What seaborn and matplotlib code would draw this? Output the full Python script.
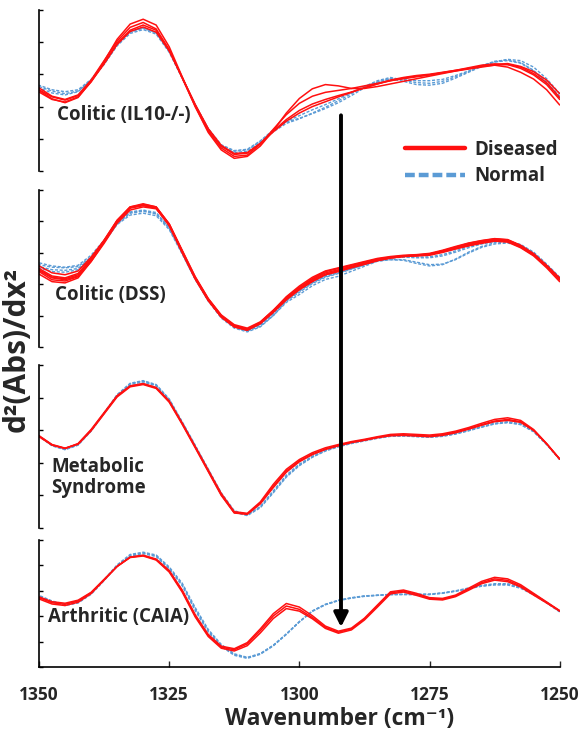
import pandas as pd
import numpy as np
import matplotlib
matplotlib.use('Agg')
import matplotlib.pyplot as plt
from matplotlib.lines import Line2D
from matplotlib.patches import ConnectionPatch
import seaborn as sns

# DATA #
# second derivative spectra, every 2.5 cm-1 (arbitrary units, 0-500 per panel)
wavenumber = [1350 - 2.5 * i for i in range(41)]

il10_diseased = [
    [250, 224, 212, 228, 278, 340, 408, 455, 470, 452, 385, 292, 200, 120, 66, 40, 46, 78, 126, 180, 225, 255, 268, 264, 256, 256, 262, 270, 278, 286, 294, 302, 310, 318, 325, 328, 322, 306, 285, 252, 205],
    [258, 232, 222, 236, 282, 342, 402, 445, 460, 440, 376, 288, 200, 124, 72, 46, 50, 84, 130, 175, 210, 232, 244, 250, 256, 264, 272, 280, 286, 292, 298, 305, 312, 320, 328, 332, 330, 318, 298, 268, 222],
    [245, 222, 214, 230, 276, 334, 396, 436, 452, 436, 374, 290, 206, 130, 78, 52, 56, 86, 125, 160, 188, 208, 222, 234, 245, 258, 270, 282, 290, 296, 300, 306, 312, 318, 325, 330, 333, 324, 308, 282, 240],
    [252, 230, 220, 234, 278, 332, 392, 432, 446, 430, 372, 290, 206, 132, 80, 55, 58, 86, 122, 155, 180, 200, 215, 230, 244, 258, 270, 280, 288, 294, 298, 304, 310, 316, 322, 328, 330, 322, 302, 274, 228],
]
il10_normal = [
    [262, 248, 240, 248, 280, 330, 390, 430, 442, 428, 372, 290, 205, 128, 76, 58, 62, 88, 122, 148, 162, 180, 198, 218, 240, 262, 280, 290, 282, 274, 272, 278, 292, 308, 326, 340, 344, 336, 312, 276, 232],
    [258, 242, 236, 246, 282, 334, 392, 432, 444, 428, 370, 288, 204, 130, 80, 62, 66, 92, 126, 154, 172, 190, 206, 224, 244, 262, 276, 286, 284, 280, 280, 284, 296, 310, 326, 338, 342, 334, 310, 272, 226],
    [266, 252, 246, 252, 284, 332, 388, 426, 438, 424, 368, 288, 206, 132, 82, 64, 68, 94, 128, 152, 164, 178, 194, 212, 234, 258, 276, 286, 278, 268, 266, 272, 288, 306, 324, 338, 346, 342, 322, 286, 240],
]

dss_diseased = [
    [246, 222, 217, 230, 278, 336, 400, 442, 450, 442, 389, 304, 220, 151, 98, 67, 56, 77, 114, 156, 188, 215, 236, 246, 257, 267, 278, 285, 289, 291, 294, 304, 315, 326, 334, 341, 338, 320, 294, 257, 215],
    [258, 236, 230, 242, 286, 340, 402, 444, 452, 444, 392, 308, 224, 154, 100, 68, 57, 78, 116, 160, 194, 222, 242, 252, 262, 272, 282, 288, 292, 294, 298, 308, 320, 331, 339, 345, 342, 324, 297, 259, 216],
    [232, 208, 204, 220, 272, 334, 400, 444, 454, 446, 392, 306, 220, 150, 96, 64, 53, 74, 110, 150, 182, 208, 230, 242, 254, 265, 276, 284, 288, 290, 292, 301, 312, 322, 330, 337, 334, 316, 290, 252, 208],
    [244, 220, 214, 226, 272, 330, 394, 436, 446, 440, 388, 304, 222, 154, 102, 71, 60, 80, 117, 158, 190, 218, 240, 250, 260, 270, 280, 286, 290, 292, 296, 306, 318, 330, 338, 344, 341, 322, 296, 258, 218],
    [250, 226, 220, 234, 282, 340, 404, 446, 452, 442, 386, 300, 216, 148, 96, 66, 56, 78, 116, 156, 186, 212, 232, 243, 254, 264, 275, 283, 288, 291, 295, 303, 313, 323, 332, 338, 336, 318, 292, 255, 213],
    [240, 214, 210, 224, 276, 336, 402, 446, 456, 446, 390, 302, 218, 148, 95, 64, 54, 75, 112, 152, 184, 210, 230, 240, 252, 263, 275, 284, 290, 293, 296, 306, 316, 327, 336, 343, 340, 322, 296, 260, 220],
]
dss_normal = [
    [262, 254, 252, 256, 286, 334, 390, 420, 426, 418, 374, 296, 215, 148, 96, 64, 51, 66, 100, 142, 167, 195, 215, 225, 241, 257, 273, 278, 278, 270, 262, 264, 278, 299, 317, 328, 331, 322, 299, 262, 220],
    [268, 258, 254, 260, 292, 340, 396, 428, 434, 424, 378, 298, 216, 146, 92, 60, 48, 64, 100, 146, 174, 202, 222, 234, 248, 262, 274, 278, 276, 266, 258, 262, 280, 302, 320, 332, 335, 326, 302, 264, 222],
    [256, 246, 244, 250, 284, 334, 392, 426, 432, 424, 380, 300, 218, 150, 98, 66, 54, 70, 106, 150, 180, 206, 226, 238, 250, 262, 275, 283, 286, 284, 284, 290, 302, 316, 328, 336, 337, 326, 300, 262, 219],
    [252, 240, 238, 246, 282, 334, 394, 430, 436, 428, 382, 302, 220, 152, 100, 68, 55, 71, 107, 150, 178, 204, 224, 236, 249, 262, 276, 284, 287, 286, 287, 294, 306, 320, 330, 337, 336, 324, 298, 260, 218],
]

metabolic_diseased = [
    [282, 255, 244, 258, 300, 352, 404, 435, 442, 430, 388, 320, 248, 175, 102, 47, 43, 76, 128, 175, 206, 227, 242, 253, 263, 270, 278, 284, 286, 284, 282, 286, 294, 305, 317, 328, 333, 326, 300, 258, 211],
    [280, 254, 244, 259, 302, 354, 406, 436, 443, 431, 390, 322, 250, 178, 106, 50, 45, 80, 134, 180, 210, 231, 246, 256, 265, 272, 280, 287, 289, 287, 285, 289, 297, 308, 321, 333, 338, 330, 302, 259, 212],
    [283, 256, 245, 257, 298, 350, 402, 433, 440, 428, 386, 318, 246, 173, 100, 46, 42, 74, 124, 171, 203, 225, 241, 252, 262, 269, 277, 283, 284, 282, 280, 284, 292, 303, 315, 326, 330, 324, 299, 258, 211],
]
metabolic_normal = [
    [282, 253, 241, 255, 298, 352, 408, 442, 450, 438, 394, 324, 252, 178, 104, 50, 40, 66, 114, 162, 196, 220, 238, 251, 261, 269, 277, 283, 284, 282, 280, 283, 290, 300, 311, 321, 326, 320, 297, 257, 212],
    [283, 254, 242, 256, 299, 353, 409, 444, 452, 440, 396, 326, 254, 181, 108, 53, 41, 64, 110, 158, 193, 218, 237, 250, 260, 268, 276, 282, 283, 281, 279, 282, 289, 299, 310, 320, 324, 318, 296, 256, 210],
    [281, 252, 240, 254, 297, 351, 406, 440, 448, 436, 392, 322, 250, 176, 102, 48, 38, 62, 108, 156, 191, 217, 236, 249, 259, 267, 275, 281, 282, 280, 278, 281, 288, 298, 309, 319, 323, 317, 295, 256, 211],
]

caia_diseased = [
    [273, 253, 247, 260, 292, 344, 396, 432, 439, 423, 377, 299, 201, 124, 78, 68, 91, 143, 201, 240, 227, 195, 156, 137, 150, 189, 240, 292, 299, 286, 270, 267, 280, 306, 332, 347, 341, 319, 286, 254, 221],
    [268, 248, 242, 255, 289, 342, 396, 433, 440, 425, 380, 303, 206, 128, 82, 72, 96, 150, 210, 250, 236, 202, 161, 141, 153, 192, 244, 296, 303, 290, 273, 270, 283, 310, 337, 353, 347, 324, 290, 256, 222],
    [276, 257, 251, 263, 294, 345, 396, 431, 437, 421, 374, 295, 197, 120, 74, 63, 84, 134, 191, 230, 220, 190, 152, 133, 146, 185, 236, 288, 295, 282, 267, 264, 277, 302, 328, 342, 336, 315, 283, 252, 220],
]
caia_normal = [
    [280, 258, 244, 254, 288, 342, 400, 440, 449, 438, 390, 325, 228, 143, 85, 49, 36, 52, 85, 130, 179, 221, 247, 263, 273, 280, 283, 286, 286, 286, 286, 291, 299, 309, 319, 325, 325, 312, 286, 254, 218],
    [282, 260, 246, 256, 290, 344, 402, 443, 452, 441, 394, 330, 234, 148, 89, 52, 38, 53, 86, 130, 178, 219, 245, 261, 271, 278, 282, 285, 286, 286, 287, 292, 300, 311, 321, 328, 328, 315, 288, 255, 219],
    [278, 256, 242, 252, 286, 340, 398, 437, 446, 435, 386, 320, 222, 138, 81, 46, 34, 50, 83, 128, 177, 220, 246, 262, 272, 279, 282, 285, 285, 285, 285, 290, 298, 308, 318, 323, 323, 310, 284, 252, 217],
]

panel_names = ['Colitic (IL10-/-)', 'Colitic (DSS)', 'Metabolic\nSyndrome', 'Arthritic (CAIA)']
x_ticks = [1350, 1325, 1300, 1275, 1250]

RED = '#ff1010'
BLUE = '#5b9bd5'


def panel_frame(diseased, normal):
    rows = []
    for group, curves in (('Normal', normal), ('Diseased', diseased)):
        for k, curve in enumerate(curves):
            for w, v in zip(wavenumber, curve):
                rows.append((w, v, group + str(k), group))
    return pd.DataFrame(rows, columns=['wn', 'val', 'curve', 'group'])


frames = [panel_frame(il10_diseased, il10_normal),
          panel_frame(dss_diseased, dss_normal),
          panel_frame(metabolic_diseased, metabolic_normal),
          panel_frame(caia_diseased, caia_normal)]

# PLOT #
sns.set_style('white')
plt.rcParams['font.family'] = ['Open Sans', 'DejaVu Sans']
plt.rcParams['font.weight'] = 'bold'

fig = plt.figure(figsize=(5.85, 7.32), dpi=100)
# axes boxes in figure fractions (left, bottom, width, height)
boxes = [(0.0667, 0.766, 0.890, 0.221),
         (0.0667, 0.526, 0.890, 0.2145),
         (0.0667, 0.2787, 0.890, 0.2227),
         (0.0667, 0.0888, 0.890, 0.1735)]
label_pos = [(1346.6, 173), (1347.0, 166), (1347.6, 156), (1348.3, 197)]

axes = []
for i, (box, df) in enumerate(zip(boxes, frames)):
    ax = fig.add_axes(box)
    sns.lineplot(data=df[df.group == 'Normal'], x='wn', y='val', units='curve', estimator=None,
                 color=BLUE, lw=1.0, ls=(0, (2.2, 1.2)), ax=ax)
    sns.lineplot(data=df[df.group == 'Diseased'], x='wn', y='val', units='curve', estimator=None,
                 color=RED, lw=1.1, ax=ax)
    ax.set_xlim(1350, 1250)
    ax.set_ylim(0, 500)
    ax.set_yticks([0, 100, 200, 300, 400, 500])
    ax.set_yticklabels([])
    ax.set_xlabel('')
    ax.set_ylabel('')
    ax.tick_params(axis='y', direction='in', length=3, width=1, left=True, colors='black')
    for s in ['top', 'right']:
        ax.spines[s].set_visible(False)
    ax.spines['left'].set_linewidth(1.2)
    ax.spines['left'].set_color('black')
    if i < 3:
        ax.spines['bottom'].set_visible(False)
        ax.set_xticks([])
    else:
        ax.spines['bottom'].set_linewidth(1.2)
        ax.spines['bottom'].set_color('black')
        ax.set_xticks(x_ticks)
        ax.set_xticklabels([str(t) for t in x_ticks], fontsize=12.5, fontweight='bold')
        ax.tick_params(axis='x', direction='in', length=4, width=1, bottom=True, pad=14)
    ax.patch.set_alpha(0)
    ax.text(label_pos[i][0], label_pos[i][1], panel_names[i], fontsize=13.5, fontweight='bold',
            va='center', ha='left', linespacing=1.05)
    axes.append(ax)

# legend
handles = [Line2D([], [], color=RED, lw=3.2),
           Line2D([], [], color=BLUE, lw=3.2, ls=(0, (2.2, 0.9)))]
axes[0].legend(handles, ['Diseased', 'Normal'], loc='upper left', bbox_to_anchor=(0.67, 0.30),
               frameon=False, handlelength=3.2, labelspacing=0.35,
               handletextpad=0.5, prop={'weight': 'bold', 'size': 13.5})

# arrow from top panel to bottom panel
arrow = ConnectionPatch(xyA=(1292, 173), coordsA=axes[0].transData,
                        xyB=(1292, 157), coordsB=axes[3].transData,
                        arrowstyle='-|>', lw=2.8, color='black', mutation_scale=21)
fig.add_artist(arrow)

fig.text(0.028, 0.523, 'd²(Abs)/dx²', rotation=90, ha='center', va='center',
         fontsize=21.5, fontweight='bold')
fig.text(0.58, 0.018, 'Wavenumber (cm⁻¹)', ha='center', va='center',
         fontsize=16.5, fontweight='bold')

fig.savefig('out.png', dpi=100)
